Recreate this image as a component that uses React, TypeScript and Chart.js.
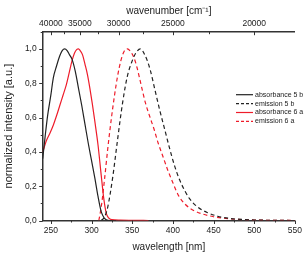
import React, { useEffect, useRef } from 'react';
import { Chart, registerables } from 'chart.js';

Chart.register(...registerables);

// ---- data ----
const absWl5b = [240, 243, 246, 250, 253, 257, 261, 264, 267, 270, 273, 276, 280, 284, 288, 292, 296, 300, 304, 308, 312, 316, 319, 322, 330];
const absVal5b = [0.36, 0.49, 0.61, 0.73, 0.83, 0.9, 0.96, 0.99, 1.0, 0.99, 0.965, 0.94, 0.87, 0.77, 0.67, 0.56, 0.45, 0.35, 0.25, 0.14, 0.05, 0.012, 0.002, 0, 0];

const emWl5b = [312, 316, 320, 326, 332, 338, 344, 350, 355, 360, 366, 372, 378, 384, 390, 396, 402, 408, 415, 420, 430, 443, 455, 470, 485, 500, 520, 550];
const emVal5b = [0, 0.02, 0.08, 0.25, 0.47, 0.68, 0.84, 0.93, 0.98, 1.0, 0.96, 0.88, 0.76, 0.64, 0.53, 0.42, 0.32, 0.24, 0.17, 0.13, 0.08, 0.045, 0.025, 0.012, 0.006, 0.003, 0.001, 0];

const absWl6a = [240, 245, 249, 253, 257, 261, 265, 269, 273, 276, 279, 282, 284, 286, 289, 292, 295, 298, 301, 304, 308, 312, 315, 318, 321, 325, 335, 350, 370];
const absVal6a = [0.4, 0.47, 0.51, 0.555, 0.61, 0.67, 0.73, 0.79, 0.87, 0.93, 0.975, 0.997, 1.0, 0.99, 0.965, 0.91, 0.85, 0.77, 0.68, 0.58, 0.44, 0.26, 0.13, 0.045, 0.015, 0.005, 0.002, 0.001, 0];

const emWl6a = [309, 312, 316, 320, 324, 328, 332, 336, 340, 344, 348, 352, 356, 360, 366, 372, 377, 382, 388, 394, 400, 407, 415, 425, 435, 450, 465, 480, 500, 520, 550];
const emVal6a = [0, 0.08, 0.24, 0.42, 0.58, 0.72, 0.84, 0.93, 0.985, 1.0, 0.985, 0.95, 0.89, 0.81, 0.69, 0.6, 0.53, 0.45, 0.37, 0.29, 0.22, 0.145, 0.095, 0.06, 0.04, 0.022, 0.012, 0.006, 0.003, 0.001, 0];

const seriesLabels = ['absorbance 5 b', 'emission 5 b', 'absorbance 6 a', 'emission 6 a'];

const wlTicks = [250, 275, 300, 325, 350, 375, 400, 425, 450, 475, 500, 525, 550];
const wlLabelled = [250, 300, 350, 400, 450, 500, 550];
const yTicks = [0, 0.1, 0.2, 0.3, 0.4, 0.5, 0.6, 0.7, 0.8, 0.9, 1.0, 1.1];
const yLabelled = [0, 0.2, 0.4, 0.6, 0.8, 1.0];
const wnTicks = [40000, 37500, 35000, 32500, 30000, 27500, 25000, 22500, 20000];
const wnLabelled = [40000, 35000, 30000, 25000, 20000];

const WL_MIN = 240;
const WL_MAX = 550;
const Y_MAX = 1.1;

const FONT = "'Liberation Sans', Arial, sans-serif";
const AXIS = '#333333';
const BLACK = '#222222';
const RED = '#ee1c2a';

const toPts = (xs: number[], ys: number[]) => xs.map((x, i) => ({ x, y: ys[i] }));

const tickMarks = {
  id: 'tickMarks',
  afterDraw(chart: any) {
    const { ctx, chartArea: ca } = chart;
    ctx.save();
    ctx.strokeStyle = AXIS;
    ctx.lineWidth = 1;
    const xs = chart.scales.x;
    xs.ticks.forEach((t: any) => {
      const px = Math.round(xs.getPixelForValue(t.value)) + 0.5;
      const major = wlLabelled.includes(t.value);
      ctx.beginPath();
      ctx.moveTo(px, ca.bottom);
      ctx.lineTo(px, ca.bottom + (major ? 3.5 : 2));
      ctx.stroke();
    });
    const x2 = chart.scales.x2;
    x2.ticks.forEach((t: any) => {
      const px = Math.round(x2.getPixelForValue(t.value)) + 0.5;
      const major = wnLabelled.includes(Math.round(1e7 / t.value));
      ctx.beginPath();
      ctx.moveTo(px, ca.top);
      ctx.lineTo(px, ca.top + (major ? 3.5 : 2.5));
      ctx.stroke();
    });
    const ys = chart.scales.y;
    ys.ticks.forEach((t: any) => {
      const py = Math.round(ys.getPixelForValue(t.value)) + 0.5;
      const major = yLabelled.some((v) => Math.abs(v - t.value) < 1e-6);
      ctx.beginPath();
      ctx.moveTo(ca.left, py);
      ctx.lineTo(ca.left - (major ? 3.5 : 2), py);
      ctx.stroke();
    });
    ctx.restore();
  },
};

const insideLegend = {
  id: 'insideLegend',
  afterDraw(chart: any) {
    const { ctx } = chart;
    const x0 = 236;
    const x1 = 253;
    const tx = 255;
    const y0 = 94.7;
    const dy = 8.9;
    ctx.save();
    ctx.font = `7px ${FONT}`;
    ctx.textBaseline = 'middle';
    ctx.textAlign = 'left';
    chart.data.datasets.forEach((ds: any, i: number) => {
      const y = y0 + i * dy;
      ctx.strokeStyle = ds.borderColor;
      ctx.lineWidth = 1.2;
      ctx.setLineDash(ds.borderDash && ds.borderDash.length ? [3, 2] : []);
      ctx.beginPath();
      ctx.moveTo(x0, y);
      ctx.lineTo(x1, y);
      ctx.stroke();
      ctx.setLineDash([]);
      ctx.fillStyle = '#222';
      ctx.fillText(ds.label, tx, y);
    });
    ctx.restore();
  },
};

export default function App() {
  const ref = useRef<HTMLCanvasElement | null>(null);

  useEffect(() => {
    document.body.style.margin = '0';
    const canvas = ref.current;
    if (!canvas) return;
    const noGrid = { display: false, drawTicks: false, tickLength: 0 };
    const chart = new Chart(canvas, {
      type: 'line',
      data: {
        datasets: [
          { label: seriesLabels[0], data: toPts(absWl5b, absVal5b), borderColor: BLACK, borderDash: [] },
          { label: seriesLabels[1], data: toPts(emWl5b, emVal5b), borderColor: BLACK, borderDash: [4, 3] },
          { label: seriesLabels[2], data: toPts(absWl6a, absVal6a), borderColor: RED, borderDash: [] },
          { label: seriesLabels[3], data: toPts(emWl6a, emVal6a), borderColor: RED, borderDash: [4, 3] },
        ] as any,
      },
      options: {
        animation: false,
        responsive: true,
        maintainAspectRatio: false,
        devicePixelRatio: 1,
        layout: { padding: { left: 0, right: 9.4, top: 0, bottom: 0 } },
        elements: {
          point: { radius: 0 },
          line: { borderWidth: 1.2, cubicInterpolationMode: 'monotone', fill: false },
        },
        plugins: {
          legend: { display: false },
          tooltip: { enabled: false },
        },
        scales: {
          x: {
            type: 'linear',
            position: 'bottom',
            min: WL_MIN,
            max: WL_MAX,
            grid: noGrid,
            border: { display: true, color: AXIS, width: 1.5 },
            afterBuildTicks: (s: any) => {
              s.ticks = wlTicks.map((v) => ({ value: v }));
            },
            ticks: {
              autoSkip: false,
              maxRotation: 0,
              padding: 5,
              color: '#222',
              font: { family: FONT, size: 8.5 },
              callback: (v: any) => (wlLabelled.includes(v) ? String(v) : ''),
            },
            title: {
              display: true,
              text: 'wavelength [nm]',
              color: '#222',
              font: { family: FONT, size: 10 },
              padding: { top: 0, bottom: 0 },
            },
            afterFit: (s: any) => {
              s.height = 32.5;
            },
          },
          x2: {
            type: 'linear',
            position: 'top',
            min: WL_MIN,
            max: WL_MAX,
            grid: noGrid,
            border: { display: true, color: AXIS, width: 1.5 },
            afterBuildTicks: (s: any) => {
              s.ticks = wnTicks.map((w) => ({ value: 1e7 / w }));
            },
            ticks: {
              autoSkip: false,
              maxRotation: 0,
              padding: 3.3,
              color: '#222',
              font: { family: FONT, size: 8.5 },
              callback: (v: any) => {
                const wn = Math.round(1e7 / v);
                return wnLabelled.includes(wn) ? String(wn) : '';
              },
            },
            title: {
              display: true,
              text: 'wavenumber [cm⁻¹]',
              color: '#222',
              font: { family: FONT, size: 10 },
              padding: { top: 5.4, bottom: 0 },
            },
            afterFit: (s: any) => {
              s.height = 31.7;
            },
          },
          y: {
            type: 'linear',
            position: 'left',
            min: 0,
            max: Y_MAX,
            grid: noGrid,
            border: { display: true, color: AXIS, width: 1.5 },
            afterBuildTicks: (s: any) => {
              s.ticks = yTicks.map((v) => ({ value: v }));
            },
            ticks: {
              autoSkip: false,
              padding: 6,
              color: '#222',
              font: { family: FONT, size: 8.5 },
              callback: (v: any) => {
                const hit = yLabelled.find((l) => Math.abs(l - v) < 1e-6);
                return hit === undefined ? '' : hit.toFixed(1).replace('.', ',');
              },
            },
            title: {
              display: true,
              text: 'normalized intensity [a.u.]',
              color: '#222',
              font: { family: FONT, size: 11 },
              padding: { top: 2.5, bottom: 0 },
            },
            afterFit: (s: any) => {
              s.width = 42.7;
            },
          },
        },
      } as any,
      plugins: [tickMarks, insideLegend],
    });
    return () => chart.destroy();
  }, []);

  return (
    <div style={{ position: 'relative', width: 307, height: 253 }}>
      <canvas ref={ref} />
    </div>
  );
}
